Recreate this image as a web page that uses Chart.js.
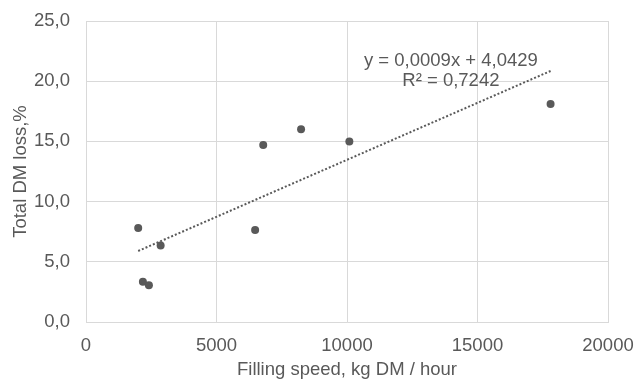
<!DOCTYPE html>
<html>
<head>
<meta charset="utf-8">
<script src="https://cdn.jsdelivr.net/npm/chart.js@4/dist/chart.umd.min.js"></script>
<style>
  html, body { margin: 0; padding: 0; background: #fff; }
  #wrap { width: 636px; height: 381px; position: relative; }
</style>
</head>
<body>
<div id="wrap"><canvas id="chart"></canvas></div>
<script>
// filling speed (kg DM / hour) and total DM loss (%) per silo
const fillingSpeed = [2000, 2180, 2410, 2860, 6480, 6790, 8240, 10090, 17800];
const dmLoss = [7.8, 3.35, 3.05, 6.35, 7.65, 14.7, 16.0, 15.0, 18.1];

// linear trendline as drawn in the picture (ends of the dotted line)
const trendX = [2000, 17800];
const trendY = [5.9, 20.85];
const trendLabels = ['y = 0,0009x + 4,0429', 'R\u00b2 = 0,7242'];

const grey = '#595959';
const gridGrey = '#d9d9d9';
const fontFamily = '"Liberation Sans", Arial, sans-serif';

const equationLabel = {
    id: 'equationLabel',
    afterDatasetsDraw(chart) {
        const { ctx, scales } = chart;
        ctx.save();
        ctx.fillStyle = grey;
        ctx.font = '18.5px ' + fontFamily;
        ctx.textAlign = 'center';
        ctx.textBaseline = 'middle';
        const x = scales.x.getPixelForValue(13980);
        ctx.fillText(trendLabels[0], x, scales.y.getPixelForValue(21.7));
        ctx.fillText(trendLabels[1], x, scales.y.getPixelForValue(20.0));
        ctx.restore();
    }
};

new Chart(document.getElementById('chart'), {
    type: 'scatter',
    data: {
        datasets: [
            {
                data: fillingSpeed.map((x, i) => ({ x, y: dmLoss[i] })),
                backgroundColor: grey,
                borderColor: grey,
                pointRadius: 4,
                pointBorderWidth: 0
            },
            {
                type: 'line',
                data: trendX.map((x, i) => ({ x, y: trendY[i] })),
                borderColor: grey,
                borderWidth: 2,
                borderDash: [2, 2],
                pointRadius: 0,
                fill: false
            }
        ]
    },
    options: {
        responsive: true,
        maintainAspectRatio: false,
        animation: false,
        devicePixelRatio: 1,
        layout: { padding: { left: 0, right: 28, top: 21, bottom: 0 } },
        plugins: { legend: { display: false }, tooltip: { enabled: false } },
        scales: {
            x: {
                type: 'linear',
                min: 0,
                max: 20000,
                afterFit: (s) => {
                    s.height = 59;
                    s.paddingLeft = 0;
                    s.paddingRight = 0;
                },
                grid: { color: gridGrey, drawTicks: false },
                border: { color: gridGrey },
                ticks: {
                    stepSize: 5000,
                    padding: 13,
                    color: grey,
                    font: { family: fontFamily, size: 18.5 },
                    callback: (v) => String(v)
                },
                title: {
                    display: true,
                    text: 'Filling speed, kg DM / hour',
                    color: grey,
                    font: { family: fontFamily, size: 18.5 },
                    padding: { top: 0, bottom: 0 }
                }
            },
            y: {
                min: 0,
                max: 25,
                afterFit: (s) => {
                    s.width = 86;
                    s.paddingTop = 0;
                    s.paddingBottom = 0;
                },
                grid: { color: gridGrey, drawTicks: false },
                border: { color: gridGrey },
                ticks: {
                    stepSize: 5,
                    padding: 16,
                    color: grey,
                    font: { family: fontFamily, size: 18.5 },
                    callback: (v) => v.toFixed(1).replace('.', ',')
                },
                title: {
                    display: true,
                    text: 'Total DM loss,%',
                    color: grey,
                    font: { family: fontFamily, size: 18.5 },
                    padding: { top: 10, bottom: 0 }
                }
            }
        }
    },
    plugins: [equationLabel]
});
</script>
</body>
</html>
